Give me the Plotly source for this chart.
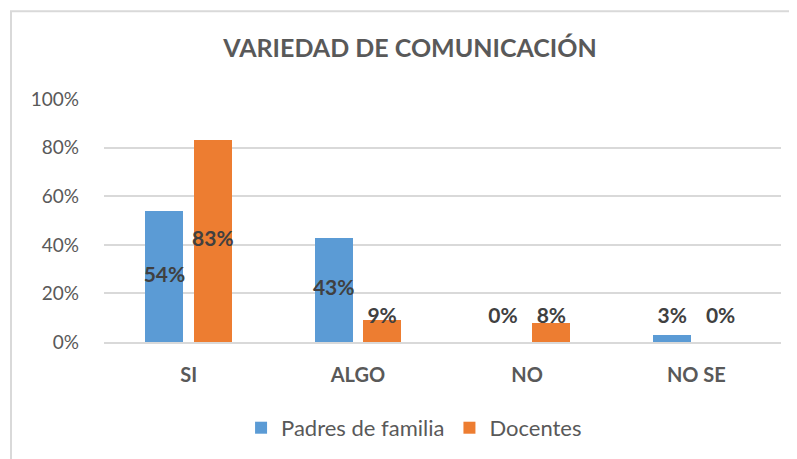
import plotly.graph_objects as go

# datos del grafico
categorias = ['SI', 'ALGO', 'NO', 'NO SE']
padres = [0.54, 0.43, 0.00, 0.03]
docentes = [0.83, 0.09, 0.08, 0.00]
y_ticks = [0, 0.2, 0.4, 0.6, 0.8, 1.0]
y_tick_labels = ['0%', '20%', '40%', '60%', '80%', '100%']

azul = '#5B9BD5'
naranja = '#ED7D31'
gris = '#595959'
fuente = 'Lato'

# la pagina tiene 8px de margen, el grafico empieza en (8, 8)
W, H = 789, 451

# posicion de cada barra dentro del grupo (unidades de categoria)
desfase = 0.143
ancho = 0.225
xs = list(range(len(categorias)))


def pos_etiqueta(v):
    # como excel: centro de la barra, pero no por debajo de ~10%
    return max(v / 2, 0.10)


fig = go.Figure()
for nombre, valores, color, signo in [('Padres de familia', padres, azul, -1),
                                       ('Docentes', docentes, naranja, 1)]:
    x_barra = [x + signo * desfase for x in xs]
    fig.add_trace(go.Bar(x=x_barra, y=valores, width=ancho, name=nombre,
                         marker=dict(color=color, line=dict(width=0))))
    # etiquetas de datos
    fig.add_trace(go.Scatter(x=x_barra, y=[pos_etiqueta(v) for v in valores],
                             mode='text', showlegend=False, hoverinfo='skip',
                             text=['{:.0f}%'.format(v * 100) for v in valores],
                             textfont=dict(family=fuente, size=21, color='#404040', weight='bold'),
                             cliponaxis=False))

fig.update_layout(
    width=W, height=H,
    paper_bgcolor='white', plot_bgcolor='white',
    margin=dict(l=96, r=16, t=91, b=116),
    title=dict(text='<b>VARIEDAD DE COMUNICACIÓN</b>', x=402 / W, xanchor='center',
               y=1 - 40 / H, yanchor='middle',
               font=dict(family=fuente, size=25, color=gris)),
    showlegend=True,
    legend=dict(orientation='h', x=0.458, xanchor='center', y=-0.348, yanchor='middle',
                font=dict(family=fuente, size=22, color=gris), itemwidth=30,
                traceorder='normal'),
    bargap=0,
)
fig.update_xaxes(range=[-0.5, 3.5], tickvals=xs,
                 ticktext=['<b>' + c + '</b>' for c in categorias],
                 tickfont=dict(family=fuente, size=20, color=gris),
                 showgrid=False, zeroline=False, showline=True, linecolor='#D9D9D9', linewidth=2,
                 ticks='', ticklabelstandoff=14)
fig.update_yaxes(range=[0, 1.0005], tickvals=y_ticks, ticktext=y_tick_labels,
                 tickfont=dict(family=fuente, size=19, color=gris),
                 showgrid=True, gridcolor='#D9D9D9', gridwidth=1.5, zeroline=False,
                 showline=False, ticks='', ticklabelstandoff=24)

# borde del area del grafico
fig.add_shape(type='rect', xref='paper', yref='paper',
              x0=(3 - 96) / 677, x1=1.2, y0=-0.8, y1=(335 - 3) / 244,
              line=dict(color='#D9D9D9', width=2), fillcolor='rgba(0,0,0,0)', layer='below')

fig.write_html('out.html')
